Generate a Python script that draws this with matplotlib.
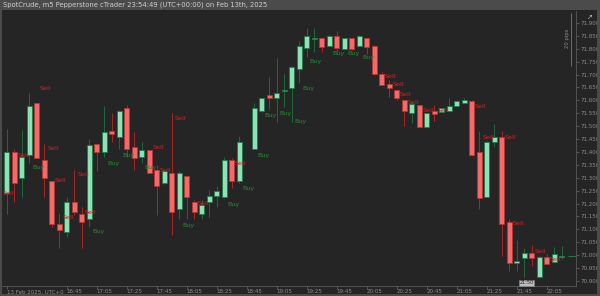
import numpy as np
import matplotlib
matplotlib.use("Agg")
import matplotlib.pyplot as plt
from matplotlib.patches import Rectangle

# SpotCrude m5 candles, 16:05 .. 22:15 (index 32 has no candle)
opens = [71.240, 71.401, 71.300, 71.388, 71.589, 71.369, 71.288, 71.120, 71.089, 71.207,
         71.159, 71.139, 71.430, 71.401, 71.481, 71.459, 71.569, 71.418, 71.382, 71.408,
         71.330, 71.279, 71.317, 71.179, 71.307, 71.207, 71.160, 71.207, 71.229, 71.227,
         71.369, 71.289, np.nan, 71.410, 71.560, 71.621, 71.610, 71.638, 71.649, 71.721,
         71.802, 71.839, 71.843, 71.811, 71.850, 71.799, 71.841, 71.811, 71.841, 71.811,
         71.701, 71.662, 71.640, 71.602, 71.550, 71.582, 71.498, 71.560, 71.556, 71.560,
         71.579, 71.589, 71.599, 71.399, 71.227, 71.440, 71.459, 71.128, 70.971, 70.988,
         71.010, 70.917, 70.994, 70.975, 70.993]
highs = [71.489, 71.410, 71.485, 71.630, 71.591, 71.430, 71.288, 71.165, 71.227, 71.330,
         71.188, 71.450, 71.430, 71.579, 71.550, 71.563, 71.582, 71.479, 71.440, 71.408,
         71.350, 71.330, 71.550, 71.326, 71.307, 71.214, 71.214, 71.253, 71.268, 71.379,
         71.376, 71.462, np.nan, 71.591, 71.610, 71.692, 71.764, 71.702, 71.733, 71.830,
         71.879, 71.879, 71.843, 71.852, 71.870, 71.842, 71.842, 71.852, 71.842, 71.813,
         71.711, 71.679, 71.642, 71.603, 71.595, 71.584, 71.551, 71.582, 71.571, 71.608,
         71.600, 71.610, 71.600, 71.483, 71.441, 71.509, 71.481, 71.140, 71.059, 71.028,
         71.040, 70.995, 71.005, 71.033, 71.036]
lows = [71.160, 71.207, 71.227, 71.359, 71.377, 71.227, 71.110, 71.029, 71.072, 71.156,
        71.029, 71.110, 71.326, 71.382, 71.440, 71.410, 71.382, 71.330, 71.359, 71.319,
        71.156, 71.276, 71.078, 71.139, 71.139, 71.139, 71.139, 71.149, 71.188, 71.221,
        71.259, 71.279, np.nan, 71.410, 71.556, 71.567, 71.516, 71.574, 71.516, 71.667,
        71.769, 71.789, 71.789, 71.809, 71.789, 71.797, 71.795, 71.809, 71.779, 71.700,
        71.658, 71.614, 71.602, 71.501, 71.511, 71.497, 71.495, 71.521, 71.555, 71.559,
        71.578, 71.588, 71.386, 71.178, 71.226, 71.418, 70.998, 70.937, 70.937, 70.917,
        70.958, 70.915, 70.964, 70.974, 70.984]
closes = [71.401, 71.279, 71.382, 71.579, 71.378, 71.300, 71.120, 71.098, 71.207, 71.169,
          71.130, 71.427, 71.401, 71.479, 71.469, 71.559, 71.410, 71.378, 71.408, 71.320,
          71.268, 71.326, 71.169, 71.317, 71.227, 71.169, 71.195, 71.229, 71.249, 71.369,
          71.289, 71.440, np.nan, 71.569, 71.608, 71.610, 71.628, 71.642, 71.731, 71.811,
          71.850, 71.842, 71.808, 71.850, 71.802, 71.841, 71.799, 71.850, 71.808, 71.701,
          71.660, 71.649, 71.610, 71.560, 71.585, 71.498, 71.550, 71.547, 71.569, 71.578,
          71.599, 71.602, 71.388, 71.221, 71.440, 71.459, 71.120, 70.969, 70.979, 71.010,
          70.988, 70.994, 70.966, 71.005, 70.996]

# signal labels: candle index and price level
sell_idx = [-1, 1, 4, 5, 6, 7, 9, 10, 19, 20, 22, 25, 30, 50, 51, 52, 53, 55, 57, 62, 63, 66, 67, 70, 72]
sell_px = [71.241, 71.388, 71.648, 71.412, 71.291, 71.148, 71.311, 71.167, 71.419, 71.330,
           71.528, 71.202, 71.357, 71.691, 71.660, 71.621, 71.590, 71.559, 71.559, 71.578,
           71.458, 71.458, 71.121, 71.016, 70.985]
buy_idx = [3, 11, 13, 15, 18, 23, 29, 31, 33, 34, 36, 38, 39, 40, 43, 45, 47]
buy_px = [71.338, 71.090, 71.357, 71.388, 71.338, 71.117, 71.198, 71.260, 71.388, 71.540,
          71.551, 71.520, 71.648, 71.749, 71.780, 71.780, 71.768]

price_ticks = [71.900 - 0.05 * k for k in range(21)]
time_tick_idx = [0, 8, 12, 16, 20, 24, 28, 32, 36, 40, 44, 48, 52, 56, 60, 64, 68, 72]
time_tick_lbl = ["13 Feb 2025, UTC+0", "16:45", "17:05", "17:25", "17:45", "18:05", "18:25",
                 "18:45", "19:05", "19:25", "19:45", "20:05", "20:25", "20:45", "21:05",
                 "21:25", "21:45", "22:05"]

BG = "#252525"
GREEN_FILL, GREEN_EDGE = "#8fe0b6", "#1f7a47"
RED_FILL, RED_EDGE = "#f26a6a", "#b93434"

#%% figure
fig = plt.figure(figsize=(6, 2.96), dpi=100, facecolor=BG)
ax = fig.add_axes([2 / 600, 10 / 296, 574 / 600, 275 / 296])
ax.set_facecolor(BG)

o = np.array(opens); h = np.array(highs); l = np.array(lows); c = np.array(closes)
x = np.arange(len(o))
up = c >= o

ax.vlines(x[up], l[up], h[up], color="#1c6a3c", linewidth=0.7, zorder=2)
ax.vlines(x[~up], l[~up], h[~up], color="#a82828", linewidth=0.7, zorder=2)
body_lo = np.minimum(o, c)
body_h = np.maximum(np.abs(c - o), 0.0025)
ax.bar(x[up], body_h[up], bottom=body_lo[up], width=0.64, color=GREEN_FILL,
       edgecolor=GREEN_EDGE, linewidth=0.6, zorder=3)
ax.bar(x[~up], body_h[~up], bottom=body_lo[~up], width=0.64, color=RED_FILL,
       edgecolor=RED_EDGE, linewidth=0.6, zorder=3)

for i, p in zip(sell_idx, sell_px):
    ax.text(i + 0.4, p, "Sell", color="#d42222", fontsize=4.6, va="center", ha="left", zorder=4)
for i, p in zip(buy_idx, buy_px):
    ax.text(i + 0.4, p, "Buy", color="#2a8a36", fontsize=4.6, va="center", ha="left", zorder=4)

# current price marker
ax.hlines(c[-1], 74.8, 75.9, color="#1f7a47", linewidth=0.8, zorder=3)

# pips ruler
ax.vlines(75.2, 71.733, 71.939, color="#777777", linewidth=0.6)
ax.text(74.75, 71.84, "20 pips", rotation=90, color="#8a8a8a", fontsize=3.8,
        ha="center", va="center")

ax.set_xlim(-0.627, 75.907)
ax.set_ylim(70.8806, 71.9465)

ax.yaxis.tick_right()
ax.set_yticks(price_ticks)
ax.set_yticklabels(["%.3f" % v for v in price_ticks])
ax.set_xticks(time_tick_idx)
ax.set_xticklabels(time_tick_lbl)
for lab in ax.get_xticklabels():
    lab.set_ha("left")
ax.tick_params(axis="y", colors="#6a6a6a", labelcolor="#8e8e8e", labelsize=4, length=2,
               width=0.5, pad=1)
ax.tick_params(axis="x", colors="#6a6a6a", labelcolor="#8e8e8e", labelsize=4, length=2,
               width=0.5, pad=0.5)
for side in ["top", "left"]:
    ax.spines[side].set_visible(False)
ax.spines["right"].set_color("#5a5a5a")
ax.spines["bottom"].set_color("#5a5a5a")
ax.spines["right"].set_linewidth(0.6)
ax.spines["bottom"].set_linewidth(0.6)

ax.text(69.3, 70.893, "21:50", fontsize=3.6, color="#222222", ha="center", va="center",
        bbox=dict(boxstyle="square,pad=0.15", fc="#bdbdbd", ec="#888888", lw=0.4),
        zorder=6)

#%% frame and header
fig.patches.append(Rectangle((0, 286 / 296), 1, 10 / 296, transform=fig.transFigure,
                             facecolor="#4b4b4b", edgecolor="none", zorder=0))
fig.patches.append(Rectangle((0, 0), 2 / 600, 1, transform=fig.transFigure,
                             facecolor="#4b4b4b", edgecolor="none", zorder=0))
fig.patches.append(Rectangle((597 / 600, 0), 3 / 600, 1, transform=fig.transFigure,
                             facecolor="#4b4b4b", edgecolor="none", zorder=0))
fig.patches.append(Rectangle((0, 0), 1, 2 / 296, transform=fig.transFigure,
                             facecolor="#4b4b4b", edgecolor="none", zorder=0))
fig.text(3 / 600, 291 / 296, "SpotCrude, m5 Pepperstone cTrader 23:54:49 (UTC+00:00) on Feb 13th, 2025",
         color="#d0d0d0", fontsize=4.9, ha="left", va="center")
fig.text(590 / 600, 279 / 296, "\u2197", color="#bbbbbb", fontsize=5, ha="center", va="center")

fig.savefig("out.png", dpi=100, facecolor=BG)
